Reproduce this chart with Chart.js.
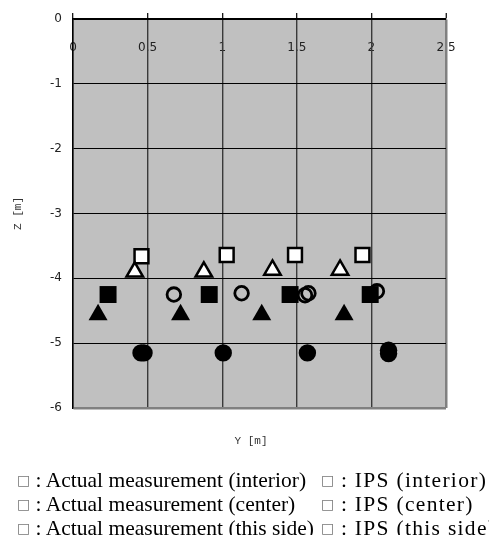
<!DOCTYPE html>
<html>
<head>
<meta charset="utf-8">
<script src="https://cdn.jsdelivr.net/npm/chart.js@4"></script>
<style>
  html, body { margin: 0; padding: 0; background: #fff; }
  #wrap { position: relative; width: 489px; height: 535px; overflow: hidden; }
  #c { position: absolute; left: 0; top: 0; }
  .ytitle { position: absolute; left: 0; width: 502px; top: 435px; text-align: center;
            font: 11px "Liberation Mono", "DejaVu Sans Mono", monospace; color: #333; }
  .leg { position: absolute; font: 21.5px "Liberation Serif", "Times New Roman", serif; color: #000;
         white-space: nowrap; line-height: 24px; }
  .leg2 .t { letter-spacing: 1.3px; }
  .box { font: 14px "DejaVu Sans", sans-serif; color: #777; position: relative; top: -2px; letter-spacing: 0; }
</style>
</head>
<body>
<div id="wrap">
  <canvas id="c" width="489" height="535"></canvas>
  <div class="ytitle">Y [m]</div>
  <div class="leg" style="left:17px; top:468px;">
    <div><span class="box">□</span> : Actual measurement (interior)</div>
    <div><span class="box">□</span> : Actual measurement (center)</div>
    <div><span class="box">□</span> : Actual measurement (this side)</div>
  </div>
  <div class="leg leg2" style="left:321px; top:468px;">
    <div><span class="box">□</span><span class="t"> : IPS (interior)</span></div>
    <div><span class="box">□</span><span class="t"> : IPS (center)</span></div>
    <div><span class="box">□</span><span class="t"> : IPS (this side)</span></div>
  </div>
</div>
<script>
// ---- data (Y [m], Z [m]) ----
const actualInteriorY = [0.235, 0.913, 1.455, 1.992];
const actualInteriorZ = [-4.25, -4.25, -4.25, -4.25];
const actualCenterY = [0.168, 0.721, 1.265, 1.817];
const actualCenterZ = [-4.56, -4.56, -4.56, -4.56];
const actualThisSideY = [0.456, 0.476, 1.007, 1.571, 2.115, 2.115];
const actualThisSideZ = [-5.15, -5.15, -5.15, -5.15, -5.11, -5.16];
const ipsInteriorY = [0.459, 1.030, 1.488, 1.940];
const ipsInteriorZ = [-3.66, -3.64, -3.64, -3.64];
const ipsCenterY = [0.414, 0.877, 1.337, 1.790];
const ipsCenterZ = [-3.90, -3.90, -3.87, -3.87];
const ipsThisSideY = [0.676, 1.130, 1.555, 1.578, 2.037];
const ipsThisSideZ = [-4.25, -4.23, -4.26, -4.23, -4.20];
const xTicks = [0, 0.5, 1, 1.5, 2, 2.5];
const yTicks = [0, -1, -2, -3, -4, -5, -6];

const pts = (xs, zs) => xs.map((x, i) => ({ x: x, y: zs[i] }));

const bgPlugin = {
  id: 'plotBg',
  beforeDraw(chart) {
    const { ctx, chartArea: a } = chart;
    ctx.save();
    ctx.fillStyle = '#c0c0c0';
    ctx.fillRect(a.left, a.top, a.right - a.left, a.bottom - a.top);
    ctx.restore();
  }
};

new Chart(document.getElementById('c'), {
  type: 'scatter',
  data: {
    datasets: [
      { label: 'IPS (center)', data: pts(ipsCenterY, ipsCenterZ), pointStyle: 'triangle',
        pointRadius: 9.5, backgroundColor: '#ffffff', borderColor: '#000', borderWidth: 2.5 },
      { label: 'IPS (interior)', data: pts(ipsInteriorY, ipsInteriorZ), pointStyle: 'rect',
        pointRadius: 9.8, backgroundColor: '#ffffff', borderColor: '#000', borderWidth: 2.5 },
      { label: 'Actual measurement (interior)', data: pts(actualInteriorY, actualInteriorZ), pointStyle: 'rect',
        pointRadius: 12, backgroundColor: '#000', borderColor: '#000', borderWidth: 0 },
      { label: 'IPS (this side)', data: pts(ipsThisSideY, ipsThisSideZ), pointStyle: 'circle',
        pointRadius: 6.8, backgroundColor: 'rgba(0,0,0,0)', borderColor: '#000', borderWidth: 2.8 },
      { label: 'Actual measurement (center)', data: pts(actualCenterY, actualCenterZ), pointStyle: 'triangle',
        pointRadius: 11, backgroundColor: '#000', borderColor: '#000', borderWidth: 0 },
      { label: 'Actual measurement (this side)', data: pts(actualThisSideY, actualThisSideZ), pointStyle: 'circle',
        pointRadius: 8.7, backgroundColor: '#000', borderColor: '#000', borderWidth: 0 }
    ]
  },
  options: {
    responsive: false,
    devicePixelRatio: 1,
    animation: false,
    events: [],
    layout: { padding: { left: 0, top: 0, right: 43, bottom: 127 } },
    plugins: { legend: { display: false }, tooltip: { enabled: false } },
    scales: {
      x: {
        type: 'linear',
        position: 'top',
        min: 0, max: 2.5,
        afterFit: (s) => { s.height = 19; },
        afterBuildTicks: (s) => { s.ticks = xTicks.map(v => ({ value: v })); },
        ticks: {
          mirror: true,
          padding: 22,
          z: -2,
          color: '#222',
          font: { family: 'DejaVu Sans', size: 12 },
          maxRotation: 0,
          autoSkip: false,
          callback: (v) => String(v)
        },
        grid: {
          drawTicks: true,
          tickLength: 6,
          tickColor: '#000',
          tickWidth: 1.2,
          color: (c) => (c.tick && c.tick.value === 2.5) ? '#808080' : '#3a3a3a',
          lineWidth: (c) => (c.tick && c.tick.value === 2.5) ? 2.5 : 1.4
        },
        border: { display: true, color: '#000', width: 1.5 }
      },
      y: {
        type: 'linear',
        min: -6, max: 0,
        afterFit: (s) => { s.width = 73; },
        afterBuildTicks: (s) => { s.ticks = yTicks.map(v => ({ value: v })); },
        ticks: {
          padding: 11,
          color: '#222',
          font: { family: 'DejaVu Sans', size: 12 },
          callback: (v) => String(v)
        },
        grid: {
          drawTicks: false,
          color: (c) => (c.tick && c.tick.value === -6) ? '#808080' : '#000',
          lineWidth: (c) => (c.tick && c.tick.value === -6) ? 2.5 : 1
        },
        border: { display: true, color: '#000', width: 1.5 },
        title: {
          display: true,
          text: 'Z [m]',
          color: '#333',
          font: { family: 'Liberation Mono', size: 11 },
          padding: { top: 11, bottom: 0 }
        }
      }
    }
  },
  plugins: [bgPlugin]
});
</script>
</body>
</html>
